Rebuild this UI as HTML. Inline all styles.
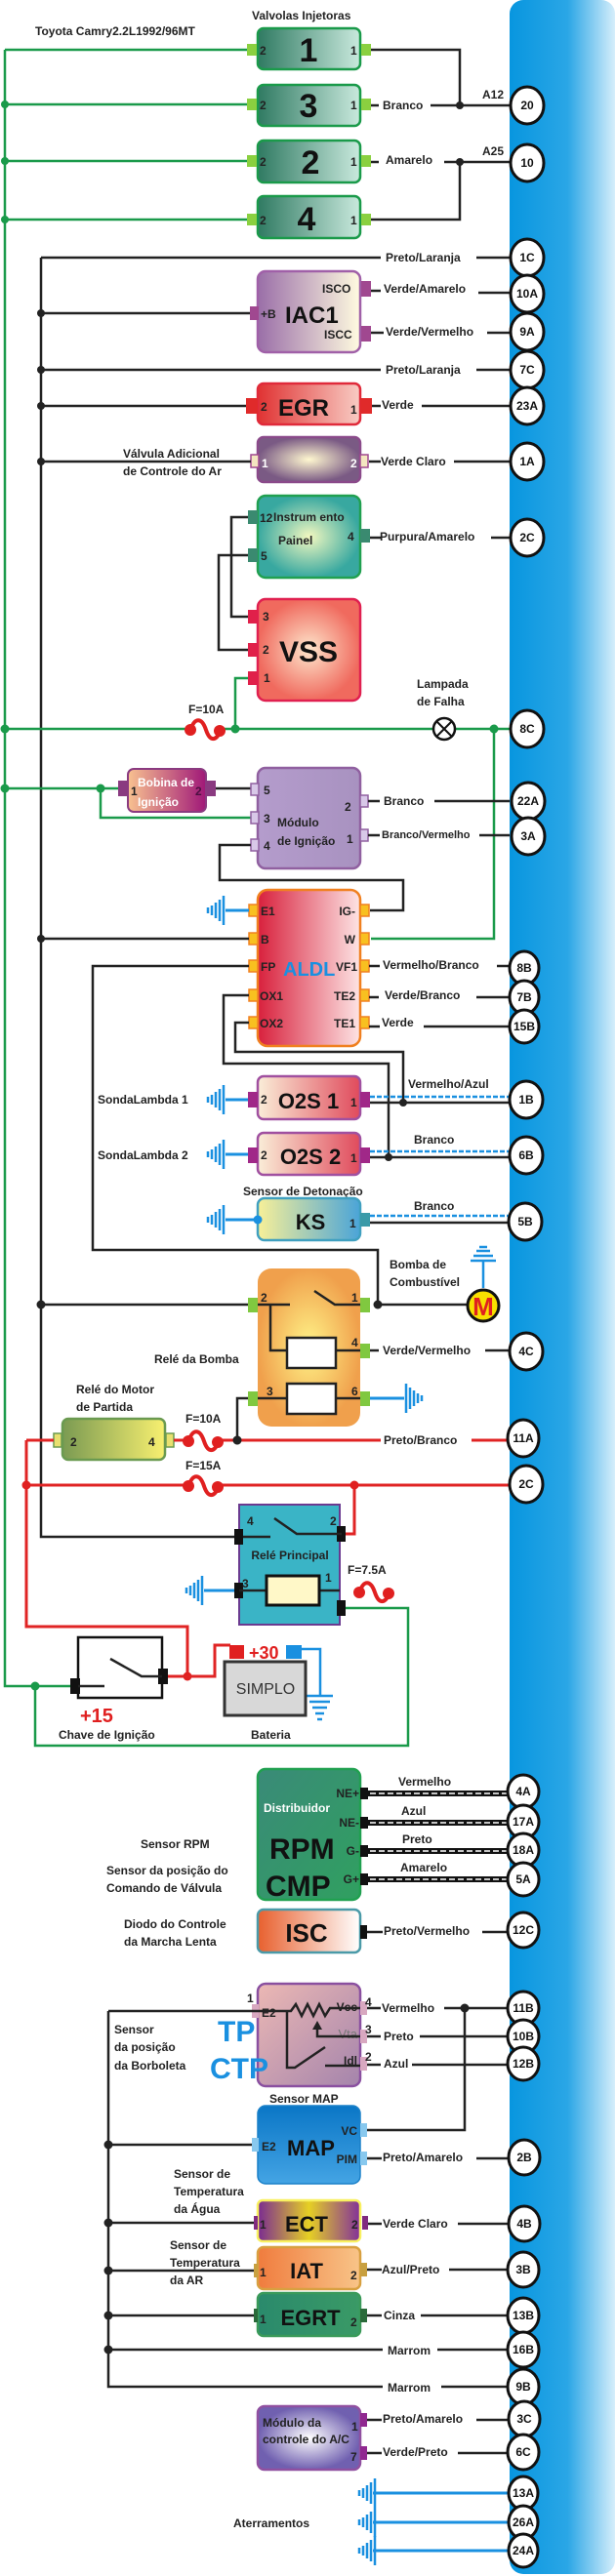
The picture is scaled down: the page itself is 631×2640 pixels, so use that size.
<!DOCTYPE html>
<html><head><meta charset="utf-8"><style>
html,body{margin:0;padding:0;background:#fff}
svg{display:block}
.t{font-family:"Liberation Sans",sans-serif;font-weight:bold;font-size:12px;fill:#222}
.s{font-family:"Liberation Sans",sans-serif;font-weight:bold;font-size:11px;fill:#222}
.b{font-family:"Liberation Sans",sans-serif;font-weight:bold;fill:#111}
.c{font-family:"Liberation Sans",sans-serif;font-weight:bold;font-size:12px;fill:#111;text-anchor:middle}
.w{fill:none;stroke:#222;stroke-width:2.5}
.g{fill:none;stroke:#1a9a4a;stroke-width:2.5}
.r{fill:none;stroke:#e02424;stroke-width:3}
.bl{fill:none;stroke:#1a90e0;stroke-width:3}
.ec{fill:#fff;stroke:#111;stroke-width:3}
</style></head><body>
<svg width="631" height="2640" viewBox="0 0 631 2640" xmlns="http://www.w3.org/2000/svg">
<defs>
<linearGradient id="ecu" x1="0" x2="1"><stop offset="0" stop-color="#0896df"/><stop offset="0.55" stop-color="#2aa6e6"/><stop offset="1" stop-color="#d6eefb"/></linearGradient>
<linearGradient id="inj" x1="0" x2="1"><stop offset="0" stop-color="#2f7a62"/><stop offset="1" stop-color="#c9e9dd"/></linearGradient>
<linearGradient id="iac" x1="0" x2="1"><stop offset="0" stop-color="#9a6ea8"/><stop offset="1" stop-color="#fffbe0"/></linearGradient>
<linearGradient id="egr" x1="0" x2="1"><stop offset="0" stop-color="#e03232"/><stop offset="1" stop-color="#f8ccc4"/></linearGradient>
<radialGradient id="val"><stop offset="0" stop-color="#fff8d0"/><stop offset="1" stop-color="#7a5a84"/></radialGradient>
<radialGradient id="ins"><stop offset="0" stop-color="#f2f8c0"/><stop offset="1" stop-color="#38a8a0"/></radialGradient>
<radialGradient id="vss"><stop offset="0" stop-color="#fde6cc"/><stop offset="1" stop-color="#f06a5e"/></radialGradient>
<linearGradient id="bob" x1="0" x2="1"><stop offset="0" stop-color="#f8c290"/><stop offset="1" stop-color="#a01878"/></linearGradient>
<linearGradient id="mod" x1="0" x2="1"><stop offset="0" stop-color="#b49ccc"/><stop offset="1" stop-color="#a892c0"/></linearGradient>
<linearGradient id="aldl" x1="0" x2="1"><stop offset="0" stop-color="#d8203c"/><stop offset="1" stop-color="#fde4e4"/></linearGradient>
<linearGradient id="o2" x1="0" x2="1"><stop offset="0" stop-color="#faeed8"/><stop offset="1" stop-color="#e04a5c"/></linearGradient>
<linearGradient id="ks" x1="0" x2="1"><stop offset="0" stop-color="#f8f098"/><stop offset="1" stop-color="#4aa4d8"/></linearGradient>
<radialGradient id="rel"><stop offset="0" stop-color="#fff488"/><stop offset="1" stop-color="#f0a04c"/></radialGradient>
<linearGradient id="st" x1="0" x2="1"><stop offset="0" stop-color="#7a9a52"/><stop offset="1" stop-color="#f8f070"/></linearGradient>
<linearGradient id="dis" x1="0" x2="1" y1="0" y2="1"><stop offset="0" stop-color="#3a8a78"/><stop offset="1" stop-color="#30a060"/></linearGradient>
<linearGradient id="isc" x1="0" x2="1"><stop offset="0" stop-color="#e8602e"/><stop offset="1" stop-color="#fff"/></linearGradient>
<linearGradient id="tp" x1="0" x2="1" y1="0" y2="1"><stop offset="0" stop-color="#ecb8b4"/><stop offset="1" stop-color="#a484ac"/></linearGradient>
<linearGradient id="map" x1="0" x2="0" y1="0" y2="1"><stop offset="0" stop-color="#0a76c6"/><stop offset="1" stop-color="#44a4e4"/></linearGradient>
<linearGradient id="ect" x1="0" x2="1"><stop offset="0" stop-color="#7a2a92"/><stop offset="0.5" stop-color="#e6d024"/><stop offset="1" stop-color="#82309a"/></linearGradient>
<linearGradient id="iat" x1="0" x2="1"><stop offset="0" stop-color="#f07c3e"/><stop offset="1" stop-color="#f8c488"/></linearGradient>
<linearGradient id="egrt" x1="0" x2="1"><stop offset="0" stop-color="#2a8a6c"/><stop offset="1" stop-color="#3a9a66"/></linearGradient>
<radialGradient id="ac"><stop offset="0" stop-color="#fff"/><stop offset="1" stop-color="#7060b0"/></radialGradient>
<symbol id="gl" viewBox="-20 -17 22 34" width="22" height="34" overflow="visible"><path d="M0,-15V15M-4,-11V11M-8,-8V8M-12,-5V5M-16,-3V3" stroke="#1a90e0" stroke-width="2.5" fill="none"/></symbol>
<symbol id="gr" viewBox="-2 -17 22 34" width="22" height="34" overflow="visible"><path d="M0,-15V15M4,-11V11M8,-8V8M12,-5V5M16,-3V3" stroke="#1a90e0" stroke-width="2.5" fill="none"/></symbol>
</defs>

<!-- ECU bar -->
<rect x="522" y="0" width="108" height="2638" rx="14" fill="url(#ecu)"/>

<!-- Title -->
<text class="t" x="36" y="36" font-size="13">Toyota Camry2.2L1992/96MT</text>
<text class="t" x="258" y="20">Valvolas Injetoras</text>

<!-- green main -->
<path class="g" d="M5,51V1728H74"/>
<path class="g" d="M5,51H256M5,107H256M5,165H256M5,225H256"/>
<g fill="#1a9a4a"><circle cx="5" cy="107" r="4"/><circle cx="5" cy="165" r="4"/><circle cx="5" cy="225" r="4"/></g>

<!-- injectors -->
<g>
<rect x="264" y="29" width="105" height="42" rx="6" fill="url(#inj)" stroke="#1a9a4a" stroke-width="2.5"/>
<rect x="264" y="87" width="105" height="42" rx="6" fill="url(#inj)" stroke="#1a9a4a" stroke-width="2.5"/>
<rect x="264" y="144" width="105" height="43" rx="6" fill="url(#inj)" stroke="#1a9a4a" stroke-width="2.5"/>
<rect x="264" y="201" width="105" height="43" rx="6" fill="url(#inj)" stroke="#1a9a4a" stroke-width="2.5"/>
<g fill="#8ad040"><rect x="253" y="45" width="10" height="12"/><rect x="370" y="45" width="10" height="12"/><rect x="253" y="101" width="10" height="12"/><rect x="370" y="101" width="10" height="12"/><rect x="253" y="159" width="10" height="12"/><rect x="370" y="159" width="10" height="12"/><rect x="253" y="219" width="10" height="12"/><rect x="370" y="219" width="10" height="12"/></g>
<text class="t" x="266" y="56">2</text><text class="t" x="359" y="56">1</text>
<text class="t" x="266" y="112">2</text><text class="t" x="359" y="112">1</text>
<text class="t" x="266" y="170">2</text><text class="t" x="359" y="170">1</text>
<text class="t" x="266" y="230">2</text><text class="t" x="359" y="230">1</text>
<text class="b" x="316" y="63" font-size="34" text-anchor="middle">1</text>
<text class="b" x="316" y="120" font-size="34" text-anchor="middle">3</text>
<text class="b" x="318" y="178" font-size="34" text-anchor="middle">2</text>
<text class="b" x="314" y="236" font-size="34" text-anchor="middle">4</text>
</g>
<path class="w" d="M380,51H471V108M380,108H388M441,108H522M380,166H388M455,166H522M471,166V225H380"/>
<circle cx="471" cy="108" r="4" fill="#222"/><circle cx="471" cy="166" r="4" fill="#222"/>
<text class="t" x="392" y="112">Branco</text>
<text class="t" x="395" y="168">Amarelo</text>
<text class="t" x="494" y="101">A12</text>
<text class="t" x="494" y="159">A25</text>

<!-- black vertical x42 -->
<path class="w" d="M42,264V1575H241"/>
<path class="w" d="M42,264H390M488,264H522"/>
<text class="t" x="395" y="268">Preto/Laranja</text>

<!-- IAC1 -->
<rect x="264" y="278" width="105" height="83" rx="8" fill="url(#iac)" stroke="#a060a8" stroke-width="2.5"/>
<g fill="#a04890"><rect x="256" y="314" width="9" height="14"/><rect x="370" y="288" width="10" height="16"/><rect x="370" y="334" width="10" height="16"/></g>
<path class="w" d="M42,321H256M380,298H390M490,300H522M380,341H393M499,341H522"/>
<circle cx="42" cy="321" r="4" fill="#222"/>
<text class="t" x="267" y="326">+B</text>
<text class="b" x="292" y="331" font-size="24">IAC1</text>
<text class="t" x="330" y="300">ISCO</text>
<text class="t" x="332" y="347">ISCC</text>
<text class="t" x="393" y="300">Verde/Amarelo</text>
<text class="t" x="395" y="344">Verde/Vermelho</text>

<path class="w" d="M42,379H390M488,379H522"/><circle cx="42" cy="379" r="4" fill="#222"/>
<text class="t" x="395" y="383">Preto/Laranja</text>

<!-- EGR -->
<rect x="264" y="393" width="105" height="42" rx="6" fill="url(#egr)" stroke="#e02a3a" stroke-width="2.5"/>
<g fill="#e02a2a"><rect x="252" y="408" width="12" height="16"/><rect x="369" y="408" width="12" height="16"/></g>
<path class="w" d="M42,416H252M381,416H390M432,416H522"/><circle cx="42" cy="416" r="4" fill="#222"/>
<text class="t" x="267" y="421">2</text><text class="t" x="359" y="424">1</text>
<text class="b" x="311" y="426" font-size="24" text-anchor="middle">EGR</text>
<text class="t" x="391" y="419">Verde</text>

<!-- Valvula adicional -->
<rect x="264" y="448" width="105" height="46" rx="6" fill="url(#val)" stroke="#8a4a8a" stroke-width="2.5"/>
<g fill="#f4e6c0" stroke="#a04890" stroke-width="1.5"><rect x="257" y="466" width="8" height="13"/><rect x="369" y="466" width="8" height="13"/></g>
<path class="w" d="M42,473H257M378,473H390M465,473H522"/><circle cx="42" cy="473" r="4" fill="#222"/>
<text class="t" x="268" y="479" fill="#fff" style="fill:#fff">1</text><text class="t" x="359" y="479" style="fill:#fff">2</text>
<text class="t" x="126" y="469">Válvula Adicional</text>
<text class="t" x="126" y="487">de Controle do Ar</text>
<text class="t" x="390" y="477">Verde Claro</text>

<!-- Instrument painel -->
<rect x="264" y="508" width="105" height="84" rx="8" fill="url(#ins)" stroke="#20a050" stroke-width="2.5"/>
<g fill="#3a8a70"><rect x="254" y="523" width="10" height="14"/><rect x="254" y="562" width="10" height="14"/><rect x="369" y="542" width="10" height="14"/></g>
<text class="t" x="266" y="535">12</text><text class="t" x="280" y="534">Instrum ento</text>
<text class="t" x="285" y="558">Painel</text><text class="t" x="356" y="554">4</text>
<text class="t" x="267" y="574">5</text>
<path class="w" d="M379,551H390M503,551H522"/>
<text class="t" x="389" y="554">Purpura/Amarelo</text>

<!-- VSS -->
<rect x="264" y="614" width="105" height="104" rx="8" fill="url(#vss)" stroke="#e02050" stroke-width="2.5"/>
<g fill="#e0204a"><rect x="254" y="625" width="10" height="14"/><rect x="254" y="659" width="10" height="14"/><rect x="254" y="688" width="10" height="14"/></g>
<text class="t" x="269" y="636">3</text><text class="t" x="269" y="670">2</text><text class="t" x="270" y="699">1</text>
<text class="b" x="316" y="678" font-size="30" text-anchor="middle">VSS</text>
<path class="w" d="M254,530H237V632H254M254,569H224V666H254"/>
<path class="g" d="M254,695H241V747"/>

<!-- green line 8C -->
<path class="g" d="M5,747H190M228,747H443M467,747H522"/>
<path d="M195,748C200,734 207,736 211,748S221,760 226,749" fill="none" stroke="#e02020" stroke-width="4"/>
<circle cx="195" cy="748" r="6" fill="#e02020"/><circle cx="225" cy="749" r="6" fill="#e02020"/>
<text class="t" x="193" y="731">F=10A</text>
<circle cx="455" cy="747" r="11" fill="#fff" stroke="#111" stroke-width="2.5"/>
<path d="M448,740L462,754M462,740L448,754" stroke="#111" stroke-width="2"/>
<text class="t" x="427" y="705">Lampada</text><text class="t" x="427" y="723">de Falha</text>
<g fill="#1a9a4a"><circle cx="5" cy="747" r="4.5"/><circle cx="241" cy="747" r="4.5"/><circle cx="506" cy="747" r="4.5"/><circle cx="5" cy="808" r="4.5"/><circle cx="103" cy="808" r="4.5"/><circle cx="36" cy="1728" r="4.5"/></g>
<path class="g" d="M506,747V962H380"/>

<!-- bobina -->
<path class="g" d="M5,808H121M103,808V838H258"/>
<rect x="131" y="788" width="80" height="44" rx="6" fill="url(#bob)" stroke="#8a3a80" stroke-width="2"/>
<g fill="#8a3a80"><rect x="121" y="800" width="10" height="16"/><rect x="211" y="800" width="10" height="16"/></g>
<text class="t" x="134" y="815">1</text><text class="t" x="200" y="815" style="fill:#4a1040">2</text>
<text class="t" x="141" y="806" style="fill:#fff" font-size="13">Bobina de</text>
<text class="t" x="141" y="826" style="fill:#fff" font-size="13">Ignição</text>
<path class="w" d="M221,808H258"/>

<!-- Modulo ignicao -->
<rect x="264" y="787" width="105" height="103" rx="8" fill="url(#mod)" stroke="#9060a0" stroke-width="2.5"/>
<g fill="#d8c8e8" stroke="#9060a0" stroke-width="1.5"><rect x="257" y="803" width="8" height="12"/><rect x="257" y="832" width="8" height="12"/><rect x="257" y="860" width="8" height="12"/><rect x="369" y="815" width="8" height="12"/><rect x="369" y="850" width="8" height="12"/></g>
<text class="t" x="270" y="814">5</text><text class="t" x="270" y="843">3</text><text class="t" x="270" y="871">4</text>
<text class="t" x="284" y="847" font-size="13">Módulo</text><text class="t" x="284" y="866" font-size="13">de Ignição</text>
<text class="t" x="353" y="831">2</text><text class="t" x="355" y="864">1</text>
<path class="w" d="M377,821H389M445,821H522M377,856H389M491,856H522"/>
<text class="t" x="393" y="825">Branco</text>
<text class="s" x="391" y="859">Branco/Vermelho</text>
<path class="w" d="M257,866H225V902H413V933H379"/>

<!-- ALDL -->
<rect x="264" y="912" width="105" height="160" rx="10" fill="url(#aldl)" stroke="#f08020" stroke-width="2.5"/>
<g fill="#f8c020" stroke="#f08020" stroke-width="1.5"><rect x="255" y="927" width="9" height="12"/><rect x="255" y="956" width="9" height="12"/><rect x="255" y="984" width="9" height="12"/><rect x="255" y="1014" width="9" height="12"/><rect x="255" y="1042" width="9" height="12"/><rect x="369" y="927" width="9" height="12"/><rect x="369" y="956" width="9" height="12"/><rect x="369" y="984" width="9" height="12"/><rect x="369" y="1014" width="9" height="12"/><rect x="369" y="1042" width="9" height="12"/></g>
<g class="t" font-size="13"><text x="267" y="938">E1</text><text x="267" y="967">B</text><text x="267" y="995">FP</text><text x="266" y="1025">OX1</text><text x="266" y="1053">OX2</text></g>
<g class="t" font-size="13" text-anchor="end"><text x="364" y="938">IG-</text><text x="364" y="967">W</text><text x="366" y="995">VF1</text><text x="364" y="1025">TE2</text><text x="364" y="1053">TE1</text></g>
<text class="b" x="290" y="1000" font-size="20" style="fill:#1a90e0">ALDL</text>
<path class="bl" d="M231,933H255"/><use href="#gl" x="209" y="916"/>
<path class="w" d="M42,962H255"/><circle cx="42" cy="962" r="4" fill="#222"/>
<path class="w" d="M378,990H389M509,990H522M378,1022H388M488,1022H522M378,1052H389M434,1052H522"/>
<text class="t" x="392" y="993">Vermelho/Branco</text>
<text class="t" x="394" y="1024">Verde/Branco</text>
<text class="t" x="391" y="1052">Verde</text>
<path class="w" d="M255,990H95V1281H387V1337"/>
<path class="w" d="M255,1020H229V1090H398V1186"/>
<path class="w" d="M255,1048H241V1078H413V1130"/>

<!-- O2S 1 -->
<rect x="264" y="1103" width="105" height="44" rx="6" fill="url(#o2)" stroke="#a050a0" stroke-width="2.5"/>
<g fill="#a02888"><rect x="254" y="1119" width="10" height="16"/><rect x="369" y="1119" width="10" height="16"/></g>
<text class="t" x="267" y="1131">2</text><text class="t" x="359" y="1134">1</text>
<text class="b" x="316" y="1136" font-size="22" text-anchor="middle">O2S 1</text>
<path class="bl" d="M231,1127H254"/><use href="#gl" x="209" y="1110"/>
<text class="t" x="100" y="1131">SondaLambda 1</text>
<path class="w" d="M379,1130H522"/><path d="M379,1124H522" stroke="#1a90e0" stroke-width="2.5" stroke-dasharray="5 2"/>
<circle cx="413" cy="1130" r="4" fill="#222"/>
<text class="t" x="418" y="1115">Vermelho/Azul</text>

<!-- O2S 2 -->
<rect x="264" y="1161" width="105" height="43" rx="6" fill="url(#o2)" stroke="#a050a0" stroke-width="2.5"/>
<g fill="#a02888"><rect x="254" y="1176" width="10" height="16"/><rect x="369" y="1176" width="10" height="16"/></g>
<text class="t" x="267" y="1188">2</text><text class="t" x="359" y="1191">1</text>
<text class="b" x="318" y="1193" font-size="22" text-anchor="middle">O2S 2</text>
<path class="bl" d="M231,1183H254"/><use href="#gl" x="209" y="1166"/>
<text class="t" x="100" y="1188">SondaLambda 2</text>
<path class="w" d="M379,1186H522"/><path d="M379,1180H522" stroke="#1a90e0" stroke-width="2.5" stroke-dasharray="5 2"/>
<circle cx="398" cy="1186" r="4" fill="#222"/>
<text class="t" x="424" y="1172">Branco</text>

<!-- KS -->
<text class="t" x="249" y="1225">Sensor de Detonação</text>
<rect x="264" y="1228" width="105" height="43" rx="7" fill="url(#ks)" stroke="#40a0c0" stroke-width="2.5"/>
<path class="bl" d="M231,1250H264"/><use href="#gl" x="209" y="1233"/><circle cx="264" cy="1250" r="4.5" fill="#1a90e0"/>
<rect x="369" y="1243" width="10" height="14" fill="#3a9aa8"/>
<text class="b" x="318" y="1260" font-size="22" text-anchor="middle">KS</text>
<text class="t" x="358" y="1258">1</text>
<path class="w" d="M379,1253H522"/><path d="M379,1246H522" stroke="#1a90e0" stroke-width="2.5" stroke-dasharray="5 2"/>
<text class="t" x="424" y="1240">Branco</text>

<!-- Bomba -->
<text class="t" x="399" y="1300" font-size="13">Bomba de</text>
<text class="t" x="399" y="1318" font-size="13">Combustível</text>
<path d="M495,1320V1292M482,1292H508M485,1287H505M488,1282H502M491,1278H499" stroke="#1a90e0" stroke-width="2.5" fill="none"/>
<path class="w" d="M387,1337H479"/><circle cx="387" cy="1337" r="4.5" fill="#222"/>
<circle cx="495" cy="1338" r="16" fill="#f8e000" stroke="#111" stroke-width="3"/>
<text class="b" x="495" y="1348" font-size="26" text-anchor="middle" style="fill:#e02020">M</text>

<!-- Rele da bomba -->
<rect x="264" y="1300" width="105" height="162" rx="14" fill="url(#rel)"/>
<g fill="#80c840"><rect x="254" y="1330" width="10" height="15"/><rect x="369" y="1330" width="10" height="15"/><rect x="369" y="1377" width="10" height="15"/><rect x="254" y="1426" width="10" height="15"/><rect x="369" y="1426" width="10" height="15"/></g>
<path class="w" d="M264,1337H297M277,1337V1384H294M322,1323L343,1337H369M344,1384H369M264,1433H294M344,1433H369"/>
<rect x="294" y="1371" width="50" height="31" fill="#fff" stroke="#222" stroke-width="2.5"/>
<rect x="294" y="1418" width="50" height="31" fill="#fff" stroke="#222" stroke-width="2.5"/>
<text class="t" x="267" y="1334">2</text><text class="t" x="360" y="1334">1</text><text class="t" x="360" y="1380">4</text><text class="t" x="273" y="1430">3</text><text class="t" x="360" y="1430">6</text>
<path class="w" d="M42,1337H254"/><circle cx="42" cy="1337" r="4.5" fill="#222"/>
<text class="t" x="158" y="1397" font-size="13">Relé da Bomba</text>
<path class="w" d="M379,1384H388M497,1384H522"/>
<text class="t" x="392" y="1388">Verde/Vermelho</text>
<path class="bl" d="M379,1433H414"/><use href="#gr" x="414" y="1416"/>
<path class="w" d="M254,1433H243V1476"/><circle cx="243" cy="1476" r="4.5" fill="#222"/>

<!-- starter relay -->
<text class="t" x="78" y="1428" font-size="13">Relé do Motor</text>
<text class="t" x="78" y="1446" font-size="13">de Partida</text>
<rect x="64" y="1454" width="105" height="42" rx="6" fill="url(#st)" stroke="#6a9a50" stroke-width="2.5"/>
<g fill="#e8e070" stroke="#6a9a50" stroke-width="1.5"><rect x="55" y="1469" width="8" height="14"/><rect x="170" y="1469" width="8" height="14"/></g>
<text class="t" x="72" y="1482" font-size="14">2</text><text class="t" x="152" y="1482" font-size="14">4</text>
<path class="r" d="M27,1476H55M178,1476H189M228,1476H390M483,1476H522"/>
<path class="r" d="M27,1476V1667H192V1719"/>
<path class="r" d="M27,1522H189M228,1522H522M363,1522V1572H350"/>
<g>
<path d="M193,1477C198,1463 205,1465 209,1477S219,1489 224,1478" fill="none" stroke="#e02020" stroke-width="4"/>
<circle cx="193" cy="1477" r="6" fill="#e02020"/><circle cx="223" cy="1478" r="6" fill="#e02020"/>
<path d="M193,1523C198,1509 205,1511 209,1523S219,1535 224,1524" fill="none" stroke="#e02020" stroke-width="4"/>
<circle cx="193" cy="1523" r="6" fill="#e02020"/><circle cx="223" cy="1524" r="6" fill="#e02020"/>
</g>
<circle cx="243" cy="1476" r="4.5" fill="#222"/>
<circle cx="27" cy="1522" r="4.5" fill="#e02020"/><circle cx="363" cy="1522" r="4.5" fill="#e02020"/><circle cx="192" cy="1718" r="4.5" fill="#e02020"/>
<text class="t" x="190" y="1458" font-size="13">F=10A</text>
<text class="t" x="190" y="1506" font-size="13">F=15A</text>
<text class="t" x="393" y="1480">Preto/Branco</text>

<!-- rele principal -->
<rect x="245" y="1542" width="103" height="123" fill="#3ab4c6" stroke="#6a3a90" stroke-width="2"/>
<g fill="#111"><rect x="240" y="1567" width="9" height="16"/><rect x="345" y="1564" width="9" height="16"/><rect x="240" y="1622" width="9" height="16"/><rect x="345" y="1640" width="9" height="16"/></g>
<path class="w" d="M249,1575H277M281,1556L304,1572H350M245,1630H273M327,1630H348"/>
<rect x="273" y="1615" width="54" height="30" fill="#fff8c8" stroke="#111" stroke-width="3"/>
<text class="t" x="253" y="1563">4</text><text class="t" x="338" y="1563">2</text><text class="t" x="248" y="1627">3</text><text class="t" x="333" y="1621">1</text>
<text class="t" x="297" y="1598" text-anchor="middle" font-size="12">Relé Principal</text>
<path class="bl" d="M209,1630H240"/><use href="#gl" x="187" y="1613"/>
<text class="t" x="356" y="1613" font-size="13">F=7.5A</text>
<path d="M368,1632C373,1618 380,1620 384,1632S394,1644 399,1633" fill="none" stroke="#e02020" stroke-width="4"/>
<circle cx="368" cy="1632" r="6" fill="#e02020"/><circle cx="398" cy="1633" r="6" fill="#e02020"/>
<path class="g" d="M354,1648H418V1789H36V1728"/>

<!-- ignition switch -->
<rect x="80" y="1678" width="86" height="62" fill="none" stroke="#111" stroke-width="2.5"/>
<g fill="#111"><rect x="72" y="1720" width="10" height="16"/><rect x="162" y="1710" width="10" height="16"/></g>
<path class="w" d="M80,1728H107M113,1700L145,1718H166"/>
<path class="r" d="M172,1718H220V1686H236"/>
<rect x="235" y="1686" width="15" height="14" fill="#e02020"/>
<rect x="293" y="1686" width="16" height="14" fill="#1a90e0"/>
<path d="M309,1690H328V1738M314,1738H341M317,1744H338M320,1750H335M323,1756H332M325,1762H330" fill="none" stroke="#1a90e0" stroke-width="2.5"/>
<rect x="230" y="1703" width="83" height="55" fill="#d8d8d8" stroke="#333" stroke-width="3"/>
<text x="272" y="1736" font-family="Liberation Sans,sans-serif" font-size="16" fill="#333" text-anchor="middle">SIMPLO</text>
<text class="b" x="255" y="1700" font-size="18" style="fill:#e02020">+30</text>
<text class="b" x="82" y="1765" font-size="20" style="fill:#e02020">+15</text>
<text class="t" x="60" y="1782" font-size="13">Chave de Ignição</text>
<text class="t" x="257" y="1782" font-size="13">Bateria</text>

<!-- Distribuidor -->
<rect x="264" y="1813" width="105" height="134" rx="8" fill="url(#dis)" stroke="#20a050" stroke-width="2.5"/>
<text class="t" x="270" y="1857" font-size="13" style="fill:#fff">Distribuidor</text>
<text class="b" x="276" y="1905" font-size="30">RPM</text>
<text class="b" x="272" y="1943" font-size="30">CMP</text>
<g class="t" font-size="13" text-anchor="end"><text x="368" y="1842">NE+</text><text x="368" y="1872">NE-</text><text x="368" y="1901">G-</text><text x="368" y="1930">G+</text></g>
<g fill="#111"><rect x="369" y="1832" width="8" height="12"/><rect x="369" y="1862" width="8" height="12"/><rect x="369" y="1891" width="8" height="12"/><rect x="369" y="1920" width="8" height="12"/></g>
<g stroke="#111" stroke-width="6"><path d="M377,1838H522M377,1868H522M377,1897H522M377,1926H522"/></g>
<g stroke="#fff" stroke-width="1.5" stroke-dasharray="6 3"><path d="M379,1838H522M379,1868H522M379,1897H522M379,1926H522"/></g>
<text class="t" x="408" y="1830" font-size="13">Vermelho</text>
<text class="t" x="411" y="1860" font-size="13">Azul</text>
<text class="t" x="412" y="1889" font-size="13">Preto</text>
<text class="t" x="410" y="1918" font-size="13">Amarelo</text>
<text class="t" x="144" y="1894" font-size="13">Sensor RPM</text>
<text class="t" x="109" y="1921" font-size="13">Sensor da posição do</text>
<text class="t" x="109" y="1939" font-size="13">Comando de Válvula</text>

<!-- ISC -->
<rect x="264" y="1957" width="105" height="44" rx="6" fill="url(#isc)" stroke="#4a9aa8" stroke-width="2.5"/>
<rect x="369" y="1973" width="7" height="14" fill="#111"/>
<text class="b" x="314" y="1990" font-size="26" text-anchor="middle">ISC</text>
<path class="w" d="M376,1980H392M494,1980H522"/>
<text class="t" x="393" y="1983">Preto/Vermelho</text>
<text class="t" x="127" y="1976" font-size="13">Diodo do Controle</text>
<text class="t" x="127" y="1994" font-size="13">da Marcha Lenta</text>

<!-- TP -->
<rect x="264" y="2033" width="105" height="105" rx="8" fill="url(#tp)" stroke="#8a50a0" stroke-width="2.5"/>
<g fill="#d8a8c0"><rect x="258" y="2054" width="7" height="14"/><rect x="369" y="2051" width="7" height="14"/><rect x="369" y="2080" width="7" height="14"/><rect x="369" y="2108" width="7" height="14"/></g>
<text class="t" x="253" y="2052">1</text><text class="t" x="268" y="2067" font-size="13">E2</text>
<text class="t" x="366" y="2061" font-size="13" text-anchor="end">Vcc</text>
<text x="366" y="2089" font-family="Liberation Sans,sans-serif" font-size="13" fill="#777" text-anchor="end">Vta</text>
<text class="t" x="366" y="2116" font-size="13" text-anchor="end">Idl</text>
<text class="t" x="374" y="2056">4</text><text class="t" x="374" y="2084">3</text><text class="t" x="374" y="2112">2</text>
<path class="w" d="M111,2061H298L303,2054L309,2066L315,2054L321,2066L327,2054L333,2066L338,2058H369"/>
<path class="w" d="M294,2061V2119H302L333,2098M333,2117H369M369,2087H325V2078"/>
<path d="M320,2080L325,2071L330,2080Z" fill="#222"/>
<text class="b" x="223" y="2092" font-size="30" style="fill:#1a90e0">TP</text>
<text class="b" x="215" y="2130" font-size="30" style="fill:#1a90e0">CTP</text>
<text class="t" x="117" y="2084" font-size="13">Sensor</text>
<text class="t" x="117" y="2102" font-size="13">da posição</text>
<text class="t" x="117" y="2121" font-size="13">da Borboleta</text>
<path class="w" d="M376,2058H390M455,2058H522M476,2058V2183H376M376,2087H390M430,2087H522M376,2116H390M422,2116H522"/>
<circle cx="476" cy="2058" r="4.5" fill="#222"/>
<text class="t" x="391" y="2062" font-size="13">Vermelho</text>
<text class="t" x="393" y="2091" font-size="13">Preto</text>
<text class="t" x="393" y="2119" font-size="13">Azul</text>

<!-- MAP -->
<text class="t" x="276" y="2155" font-size="13">Sensor MAP</text>
<rect x="264" y="2158" width="105" height="80" rx="8" fill="url(#map)" stroke="#1a80c8" stroke-width="1.5"/>
<g fill="#88c8ee"><rect x="258" y="2191" width="7" height="14"/><rect x="369" y="2176" width="7" height="14"/><rect x="369" y="2205" width="7" height="14"/></g>
<text class="t" x="268" y="2204" font-size="13">E2</text>
<text class="b" x="294" y="2209" font-size="22">MAP</text>
<text class="t" x="366" y="2188" font-size="13" text-anchor="end">VC</text>
<text class="t" x="366" y="2217" font-size="13" text-anchor="end">PIM</text>
<path class="w" d="M376,2212H391M488,2212H522"/>
<text class="t" x="392" y="2215">Preto/Amarelo</text>

<!-- black vertical x111 -->
<path class="w" d="M111,2061V2446H392M111,2198H258M111,2278H262M111,2327H262M111,2373H262M111,2408H392"/>
<g fill="#222"><circle cx="111" cy="2198" r="4.5"/><circle cx="111" cy="2278" r="4.5"/><circle cx="111" cy="2327" r="4.5"/><circle cx="111" cy="2373" r="4.5"/><circle cx="111" cy="2408" r="4.5"/></g>

<!-- ECT -->
<text class="t" x="178" y="2232" font-size="13">Sensor de</text>
<text class="t" x="178" y="2250" font-size="13">Temperatura</text>
<text class="t" x="178" y="2268" font-size="13">da Água</text>
<rect x="264" y="2255" width="105" height="42" rx="5" fill="url(#ect)" stroke="#f8f060" stroke-width="2.5"/>
<g fill="#802a80"><rect x="260" y="2271" width="4" height="14"/><rect x="371" y="2271" width="6" height="14"/></g>
<text class="t" x="266" y="2284">1</text><text class="t" x="360" y="2284">2</text>
<text class="b" x="314" y="2287" font-size="22" text-anchor="middle">ECT</text>
<path class="w" d="M377,2279H391M469,2279H522"/>
<text class="t" x="392" y="2283" font-size="13">Verde Claro</text>

<!-- IAT -->
<rect x="264" y="2303" width="105" height="43" rx="6" fill="url(#iat)" stroke="#d8a040" stroke-width="2.5"/>
<g fill="#c8a040"><rect x="260" y="2320" width="4" height="14"/><rect x="369" y="2319" width="7" height="14"/></g>
<text class="t" x="174" y="2305" font-size="13">Sensor de</text>
<text class="t" x="174" y="2323" font-size="13">Temperatura</text>
<text class="t" x="174" y="2341" font-size="13">da AR</text>
<text class="t" x="266" y="2333">1</text><text class="t" x="359" y="2336">2</text>
<text class="b" x="314" y="2335" font-size="22" text-anchor="middle">IAT</text>
<path class="w" d="M376,2326H391M460,2326H522"/>
<text class="t" x="391" y="2330">Azul/Preto</text>

<!-- EGRT -->
<rect x="264" y="2350" width="105" height="44" rx="6" fill="url(#egrt)" stroke="#3a9a5a" stroke-width="2.5"/>
<g fill="#2a6a3a"><rect x="260" y="2366" width="4" height="14"/><rect x="369" y="2366" width="7" height="14"/></g>
<text class="t" x="266" y="2381">1</text><text class="t" x="359" y="2384">2</text>
<text class="b" x="318" y="2383" font-size="22" text-anchor="middle">EGRT</text>
<path class="w" d="M376,2373H391M431,2373H522"/>
<text class="t" x="393" y="2377">Cinza</text>
<path class="w" d="M448,2408H522M452,2446H522"/>
<text class="t" x="397" y="2413" font-size="13">Marrom</text>
<text class="t" x="397" y="2451" font-size="13">Marrom</text>

<!-- A/C -->
<rect x="264" y="2466" width="105" height="65" rx="7" fill="url(#ac)" stroke="#9050a0" stroke-width="2.5"/>
<g fill="#902890"><rect x="369" y="2473" width="7" height="14"/><rect x="369" y="2507" width="7" height="14"/></g>
<text class="t" x="269" y="2487">Módulo da</text>
<text class="t" x="269" y="2504">controle do A/C</text>
<text class="t" x="360" y="2491">1</text><text class="t" x="359" y="2522">7</text>
<path class="w" d="M376,2480H391M488,2480H522M376,2514H391M469,2514H522"/>
<text class="t" x="392" y="2483">Preto/Amarelo</text>
<text class="t" x="392" y="2517">Verde/Preto</text>

<!-- grounds -->
<path class="bl" d="M382,2555H522M382,2585H522M382,2614H522"/>
<use href="#gl" x="364" y="2538"/><use href="#gl" x="364" y="2568"/><use href="#gl" x="364" y="2597"/>
<text class="t" x="239" y="2590" font-size="13">Aterramentos</text>

<!-- ECU circles -->
<g>
<ellipse class="ec" cx="540" cy="108" rx="17" ry="19"/><text class="c" x="540" y="112">20</text>
<ellipse class="ec" cx="540" cy="167" rx="17" ry="19"/><text class="c" x="540" y="171">10</text>
<ellipse class="ec" cx="540" cy="264" rx="17" ry="19"/><text class="c" x="540" y="268">1C</text>
<ellipse class="ec" cx="540" cy="301" rx="17" ry="19"/><text class="c" x="540" y="305">10A</text>
<ellipse class="ec" cx="540" cy="340" rx="17" ry="19"/><text class="c" x="540" y="344">9A</text>
<ellipse class="ec" cx="540" cy="379" rx="17" ry="19"/><text class="c" x="540" y="383">7C</text>
<ellipse class="ec" cx="540" cy="416" rx="17" ry="19"/><text class="c" x="540" y="420">23A</text>
<ellipse class="ec" cx="540" cy="473" rx="17" ry="19"/><text class="c" x="540" y="477">1A</text>
<ellipse class="ec" cx="540" cy="551" rx="17" ry="19"/><text class="c" x="540" y="555">2C</text>
<ellipse class="ec" cx="540" cy="747" rx="17" ry="19"/><text class="c" x="540" y="751">8C</text>
<ellipse class="ec" cx="541" cy="821" rx="17" ry="19"/><text class="c" x="541" y="825">22A</text>
<ellipse class="ec" cx="541" cy="857" rx="17" ry="19"/><text class="c" x="541" y="861">3A</text>
<ellipse class="ec" cx="537" cy="992" rx="15" ry="17"/><text class="c" x="537" y="996">8B</text>
<ellipse class="ec" cx="537" cy="1022" rx="15" ry="17"/><text class="c" x="537" y="1026">7B</text>
<ellipse class="ec" cx="537" cy="1052" rx="15" ry="17"/><text class="c" x="537" y="1056">15B</text>
<ellipse class="ec" cx="539" cy="1127" rx="17" ry="19"/><text class="c" x="539" y="1131">1B</text>
<ellipse class="ec" cx="539" cy="1184" rx="17" ry="19"/><text class="c" x="539" y="1188">6B</text>
<ellipse class="ec" cx="538" cy="1252" rx="17" ry="19"/><text class="c" x="538" y="1256">5B</text>
<ellipse class="ec" cx="539" cy="1385" rx="17" ry="19"/><text class="c" x="539" y="1389">4C</text>
<ellipse class="ec" cx="536" cy="1474" rx="16" ry="19"/><text class="c" x="536" y="1478">11A</text>
<ellipse class="ec" cx="539" cy="1521" rx="17" ry="19"/><text class="c" x="539" y="1525">2C</text>
<ellipse class="ec" cx="536" cy="1836" rx="16" ry="17"/><text class="c" x="536" y="1840">4A</text>
<ellipse class="ec" cx="536" cy="1867" rx="16" ry="17"/><text class="c" x="536" y="1871">17A</text>
<ellipse class="ec" cx="536" cy="1896" rx="16" ry="17"/><text class="c" x="536" y="1900">18A</text>
<ellipse class="ec" cx="536" cy="1926" rx="16" ry="17"/><text class="c" x="536" y="1930">5A</text>
<ellipse class="ec" cx="536" cy="1978" rx="16" ry="18"/><text class="c" x="536" y="1982">12C</text>
<ellipse class="ec" cx="536" cy="2058" rx="16" ry="17"/><text class="c" x="536" y="2062">11B</text>
<ellipse class="ec" cx="536" cy="2087" rx="16" ry="17"/><text class="c" x="536" y="2091">10B</text>
<ellipse class="ec" cx="536" cy="2115" rx="16" ry="17"/><text class="c" x="536" y="2119">12B</text>
<ellipse class="ec" cx="537" cy="2211" rx="16" ry="18"/><text class="c" x="537" y="2215">2B</text>
<ellipse class="ec" cx="537" cy="2279" rx="16" ry="18"/><text class="c" x="537" y="2283">4B</text>
<ellipse class="ec" cx="536" cy="2326" rx="16" ry="18"/><text class="c" x="536" y="2330">3B</text>
<ellipse class="ec" cx="536" cy="2373" rx="16" ry="18"/><text class="c" x="536" y="2377">13B</text>
<ellipse class="ec" cx="536" cy="2408" rx="16" ry="18"/><text class="c" x="536" y="2412">16B</text>
<ellipse class="ec" cx="536" cy="2446" rx="16" ry="18"/><text class="c" x="536" y="2450">9B</text>
<ellipse class="ec" cx="537" cy="2479" rx="16" ry="18"/><text class="c" x="537" y="2483">3C</text>
<ellipse class="ec" cx="536" cy="2513" rx="16" ry="18"/><text class="c" x="536" y="2517">6C</text>
<ellipse class="ec" cx="536" cy="2555" rx="15" ry="17"/><text class="c" x="536" y="2559">13A</text>
<ellipse class="ec" cx="536" cy="2585" rx="15" ry="17"/><text class="c" x="536" y="2589">26A</text>
<ellipse class="ec" cx="536" cy="2614" rx="15" ry="17"/><text class="c" x="536" y="2618">24A</text>
</g>
</svg>
</body></html>
